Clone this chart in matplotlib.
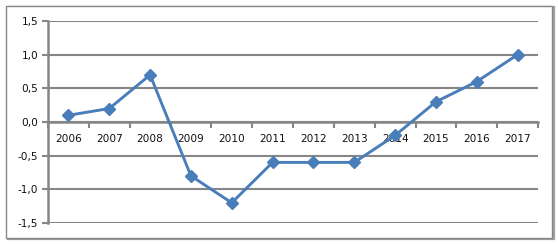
import matplotlib
matplotlib.use("Agg")
import matplotlib.pyplot as plt
from matplotlib.patches import Rectangle
from matplotlib.ticker import FixedLocator, FuncFormatter

# data
years = ["2006", "2007", "2008", "2009", "2010", "2011",
         "2012", "2013", "2014", "2015", "2016", "2017"]
values = [0.1, 0.2, 0.7, -0.8, -1.2, -0.6, -0.6, -0.6, -0.2, 0.3, 0.6, 1.0]
y_ticks = [-1.5, -1.0, -0.5, 0.0, 0.5, 1.0, 1.5]

W, H = 558, 244
grey = "#868686"
blue = "#4a7ebb"

fig = plt.figure(figsize=(W / 100, H / 100), dpi=100)
fig.patch.set_facecolor("white")

# chart border with a small shadow on the right/bottom
fig.patches.append(Rectangle((8 / W, 5 / H), 546 / W, 232 / H, transform=fig.transFigure,
                             facecolor="none", edgecolor="#a0a0a0", linewidth=1.6, zorder=0))
fig.patches.append(Rectangle((6 / W, 6 / H), 546 / W, 232 / H, transform=fig.transFigure,
                             facecolor="white", edgecolor=grey, linewidth=1.0, zorder=0))

ax = fig.add_axes([48 / W, (H - 223) / H, 490 / W, 202 / H])
ax.set_zorder(5)
ax.set_facecolor("none")

x = list(range(len(years)))
ax.plot(x, values, color=blue, linewidth=2.1, marker="D", markersize=6,
        markerfacecolor=blue, markeredgecolor=blue, zorder=3, clip_on=False)

ax.set_xlim(-0.5, len(years) - 0.5)
ax.set_ylim(-1.5, 1.5)

# horizontal gridlines
ax.set_yticks(y_ticks)
ax.yaxis.set_major_formatter(FuncFormatter(lambda v, p: f"{v:.1f}".replace(".", ",")))
ax.grid(axis="y", color=grey, linewidth=1.5)
ax.set_axisbelow(True)

# category axis crossing at zero
for s in ["top", "right"]:
    ax.spines[s].set_visible(False)
ax.spines["bottom"].set_position(("data", 0))
ax.spines["bottom"].set_color(grey)
ax.spines["bottom"].set_linewidth(1.8)
ax.spines["left"].set_color(grey)
ax.spines["left"].set_linewidth(1.8)

ax.xaxis.set_major_locator(FixedLocator([i - 0.5 for i in range(len(years) + 1)]))
ax.xaxis.set_major_formatter(FuncFormatter(lambda v, p: ""))
ax.xaxis.set_minor_locator(FixedLocator(x))
ax.set_xticklabels(years, minor=True)
ax.tick_params(axis="x", which="major", direction="out", length=4, width=1.5, color=grey)
ax.tick_params(axis="x", which="minor", length=0, pad=9, labelsize=7.6, labelcolor="#111111")
ax.tick_params(axis="y", direction="out", length=4, width=1.5, color=grey,
               labelsize=7.6, labelcolor="#111111", pad=3)

fig.savefig("out.png", dpi=100, facecolor="white")
